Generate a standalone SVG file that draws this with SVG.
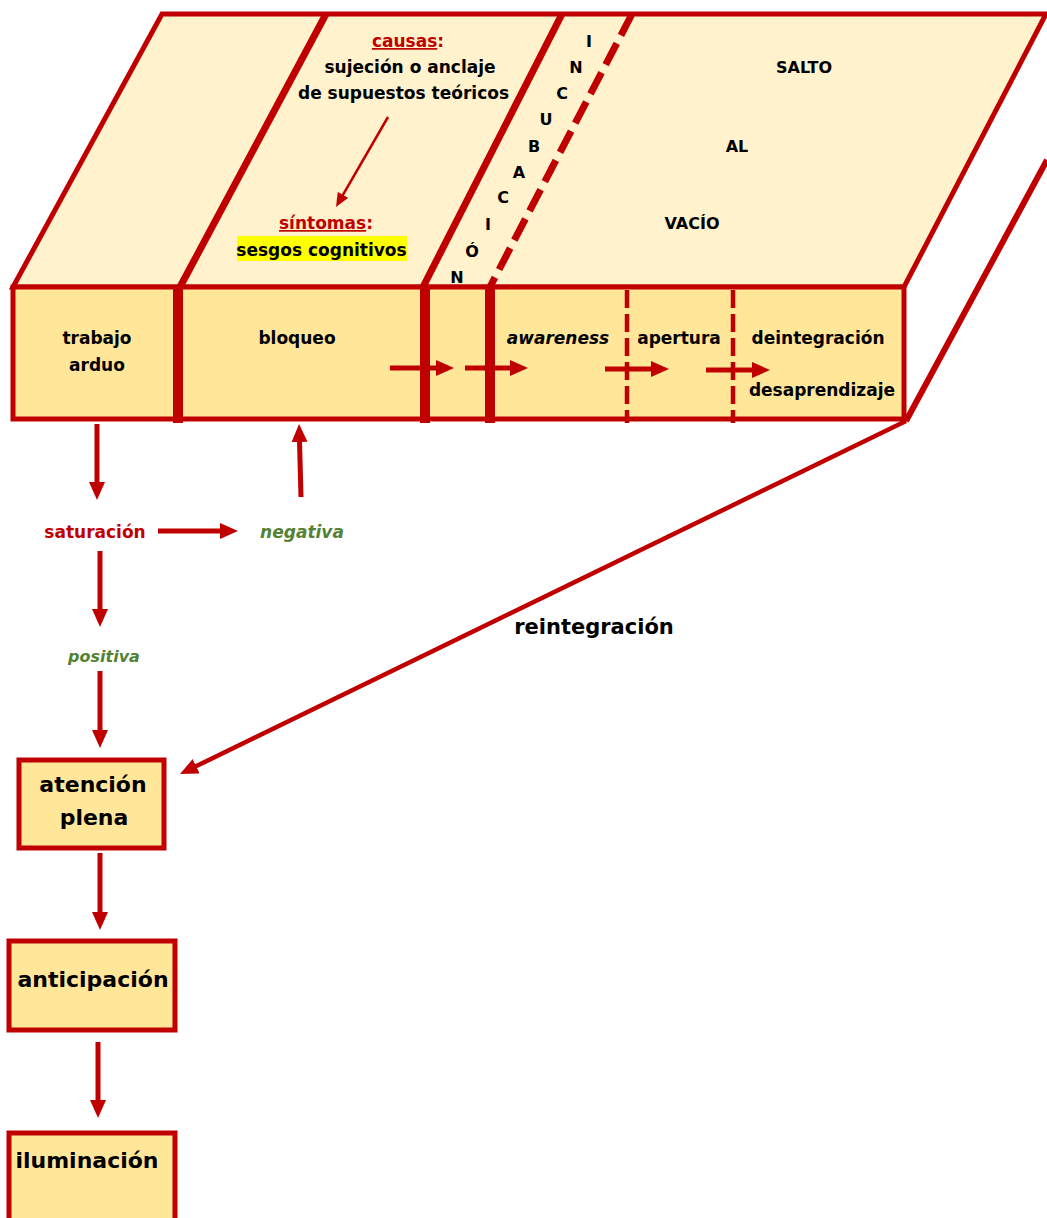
<svg xmlns="http://www.w3.org/2000/svg" width="1047" height="1218" viewBox="0 0 1047 1218">
<defs>
<marker id="ah" markerUnits="userSpaceOnUse" viewBox="0 0 18 16" markerWidth="18" markerHeight="16" refX="1" refY="8" orient="auto"><path d="M0,0 L18,8 L0,16 z" fill="#C00000"/></marker>
<marker id="ahs" markerUnits="userSpaceOnUse" viewBox="0 0 14 12" markerWidth="14" markerHeight="12" refX="1" refY="6" orient="auto"><path d="M0,0 L14,6 L0,12 z" fill="#C00000"/></marker>
</defs>
<style>
text{font-family:"DejaVu Sans",Verdana,sans-serif;font-weight:bold;font-size:17px;fill:#000;text-anchor:middle}
.red{fill:#C00000}
.grn{fill:#548235;font-style:italic}
.it{font-style:italic}
.big{font-size:22px}
.cap{font-size:16px}
.ed{stroke:#C00000;fill:none}
.box{fill:#FFE699;stroke:#C00000;stroke-width:5}
.arr{stroke:#C00000;stroke-width:5;fill:none;marker-end:url(#ah)}
</style>

<g id="top-face">
<polygon points="162,14 1046,14 904,287 13,287" fill="#FFF2CC" stroke="#C00000" stroke-width="5"/>
<line class="ed" x1="326" y1="14" x2="180" y2="287" stroke-width="7"/>
<line class="ed" x1="562" y1="14" x2="423" y2="287" stroke-width="7"/>
<line class="ed" x1="632" y1="14" x2="490" y2="287" stroke-width="7" stroke-dasharray="24 9"/>
<rect x="237" y="236" width="170" height="25" fill="#FFFF00"/>
<text x="408" y="47" class="red"><tspan text-decoration="underline">causas</tspan>:</text>
<text x="410" y="73">sujeción o anclaje</text>
<text x="403.5" y="99">de supuestos teóricos</text>
<text x="326" y="229" class="red"><tspan text-decoration="underline">síntomas</tspan>:</text>
<text x="321.5" y="256">sesgos cognitivos</text>
<g class="incubacion">
<text class="cap" x="589" y="47">I</text>
<text class="cap" x="576" y="73">N</text>
<text class="cap" x="562" y="99">C</text>
<text class="cap" x="546" y="125">U</text>
<text class="cap" x="534" y="152">B</text>
<text class="cap" x="519" y="178">A</text>
<text class="cap" x="503" y="203">C</text>
<text class="cap" x="488" y="230">I</text>
<text class="cap" x="472" y="257">Ó</text>
<text class="cap" x="457" y="283">N</text>
</g>
<text class="cap" x="804" y="73">SALTO</text>
<text class="cap" x="737" y="152">AL</text>
<text class="cap" x="692" y="229">VACÍO</text>
</g>

<g id="front-face">
<rect x="13" y="287" width="891" height="132" fill="#FFE699" stroke="#C00000" stroke-width="5"/>
<line class="ed" x1="178" y1="287" x2="178" y2="423" stroke-width="10"/>
<line class="ed" x1="425" y1="287" x2="425" y2="423" stroke-width="10"/>
<line class="ed" x1="490" y1="289" x2="490" y2="423" stroke-width="10"/>
<line class="ed" x1="627" y1="290" x2="627" y2="423" stroke-width="4.5" stroke-dasharray="18 6"/>
<line class="ed" x1="733" y1="290" x2="733" y2="423" stroke-width="4.5" stroke-dasharray="18 6"/>
<text x="97" y="344">trabajo</text>
<text x="97" y="371">arduo</text>
<text x="297" y="344">bloqueo</text>
<text x="558" y="344" class="it">awareness</text>
<text x="679" y="344">apertura</text>
<text x="818" y="344">deintegración</text>
<text x="822" y="396">desaprendizaje</text>
</g>

<g id="side-edge">
<line class="ed" x1="1047" y1="160" x2="906" y2="421" stroke-width="6"/>
</g>

<g id="labels">
<text id="saturacion" x="95" y="538" class="red">saturación</text>
<text id="negativa" x="302" y="538" class="grn">negativa</text>
<text id="positiva" x="104" y="662" class="grn" style="font-size:16px">positiva</text>
<text id="reintegracion" x="594" y="634" style="font-size:21px">reintegración</text>
</g>

<g id="atencion-plena">
<rect class="box" x="19" y="760" width="145" height="88"/>
<text class="big" x="93" y="792">atención</text>
<text class="big" x="94" y="825">plena</text>
</g>
<g id="anticipacion">
<rect class="box" x="9" y="941" width="166" height="89"/>
<text class="big" x="93" y="987">anticipación</text>
</g>
<g id="iluminacion">
<rect class="box" x="9" y="1133" width="166" height="100"/>
<text class="big" x="87" y="1168">iluminación</text>
</g>

<g id="connectors">
<line x1="388" y1="117" x2="342.5" y2="195.7" stroke="#C00000" stroke-width="2.5" marker-end="url(#ahs)"/>
<path class="arr" d="M390,368 H437"/>
<path class="arr" d="M465,368 H511"/>
<path class="arr" d="M605,369 H652"/>
<path class="arr" d="M706,370 H753"/>
<path class="arr" d="M97,424 V483"/>
<path class="arr" d="M301,497 L299.5,441"/>
<path class="arr" d="M158,531 H221"/>
<path class="arr" d="M100,551 V610"/>
<path class="arr" d="M100,671 V731"/>
<path class="arr" d="M100,853 V913"/>
<path class="arr" d="M98,1042 V1101"/>
<path class="arr" style="stroke-width:4.5" d="M906,421 L195.3,766.6"/>
</g>
</svg>
